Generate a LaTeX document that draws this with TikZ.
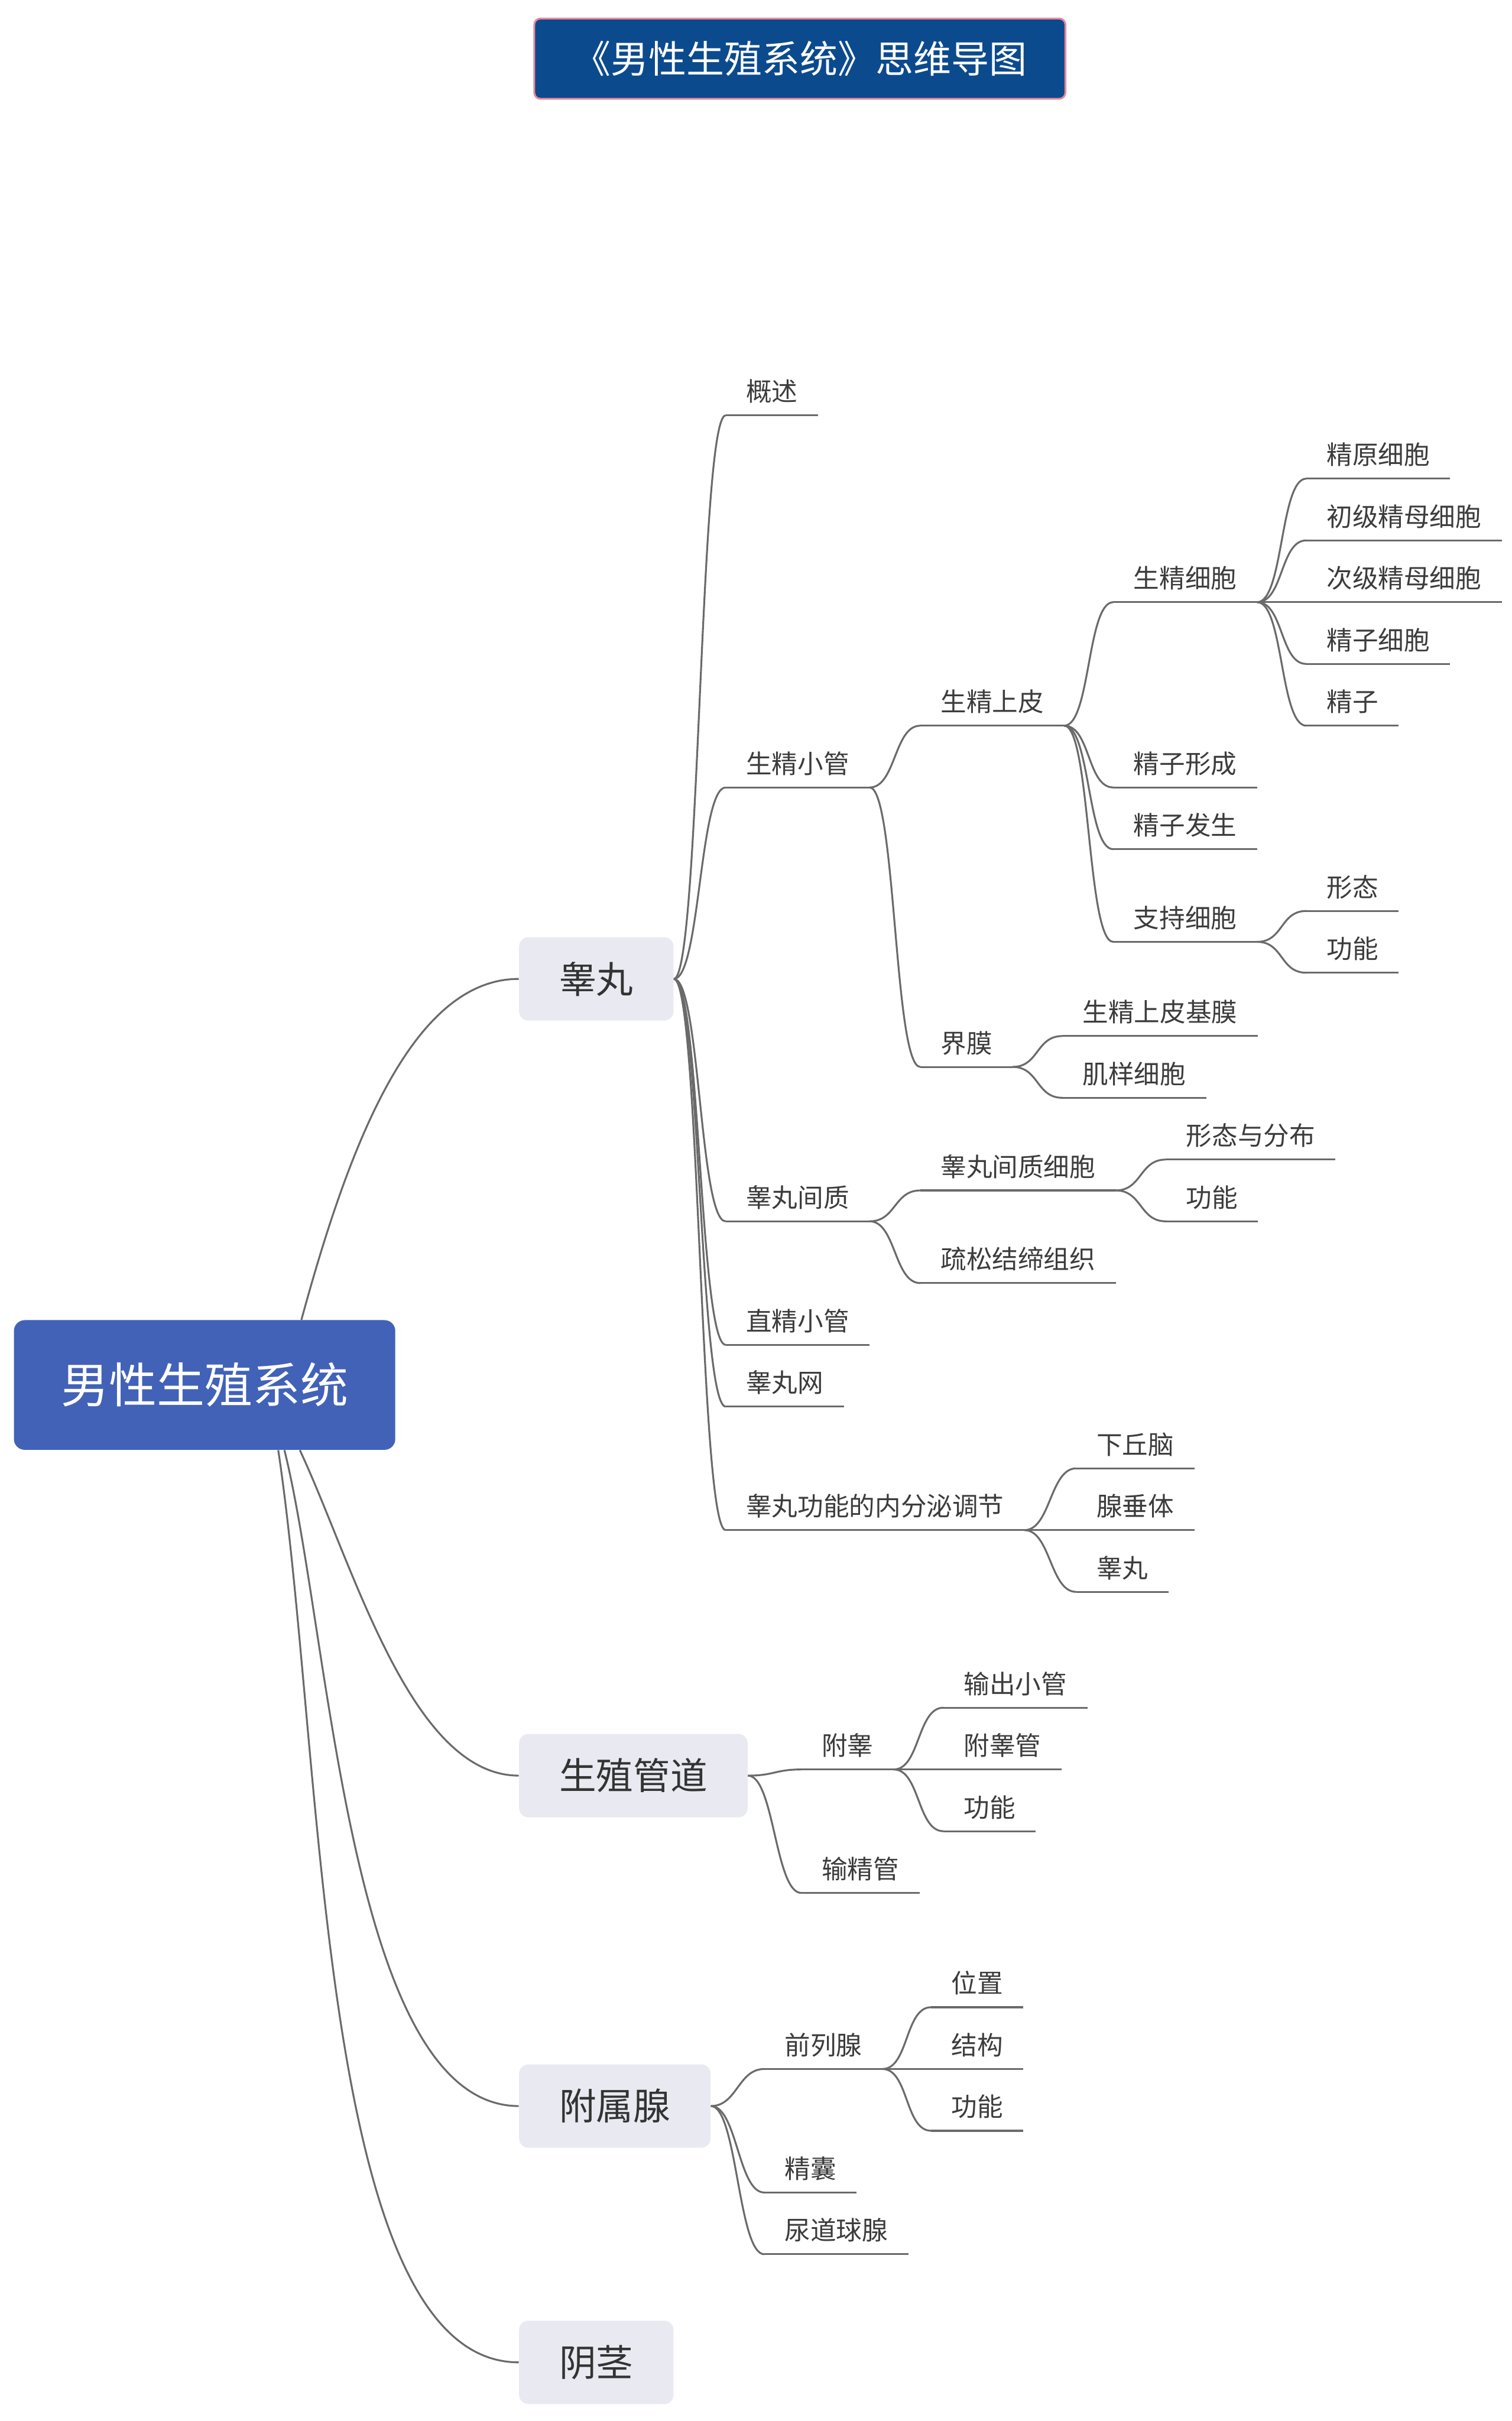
\documentclass[tikz,border=0pt]{standalone}
\usepackage{fontspec}
\setmainfont{Noto Sans CJK SC}

\definecolor{linegray}{HTML}{6A6A6A}
\definecolor{leaftext}{HTML}{3C3C3C}
\definecolor{topicfill}{HTML}{E9EAF1}
\definecolor{rootfill}{HTML}{4262B8}
\definecolor{titlefill}{HTML}{0C4A8E}
\definecolor{titleedge}{HTML}{E8899A}

\begin{document}
\begin{tikzpicture}
[
	x=1pt,y=-1pt,
	conn/.style={draw=linegray,line width=1.2pt},
	curvy/.style={to path={.. controls +(17,0) and +(-17,0) .. (\tikztotarget)}},
	leaf/.style={anchor=south west,inner xsep=13pt,inner ysep=9pt,text depth=0pt,
		text=leaftext,font=\fontsize{16.7}{20}\selectfont,
		append after command={(\tikzlastnode.south west) edge[conn] (\tikzlastnode.south east)}},
	topic/.style={anchor=west,fill=topicfill,rounded corners=6pt,inner xsep=26pt,
		minimum height=54pt,text=black!80,font=\fontsize{24}{28}\selectfont},
	rootbox/.style={fill=rootfill,rounded corners=7pt,minimum width=247pt,
		minimum height=84pt,text=white,font=\fontsize{31}{36}\selectfont},
	titlebox/.style={fill=titlefill,draw=titleedge,line width=1.2pt,rounded corners=4pt,
		minimum width=344pt,minimum height=52pt,text=white,font=\fontsize{24.5}{28}\selectfont}
]

	% page
	\path[fill=white,use as bounding box] (0,0) rectangle (979,1568);

	% title and root
	\node[titlebox] (title) at (518,38) {《男性生殖系统》思维导图};
	\node[rootbox] (root) at (132.5,897) {男性生殖系统};

	% main topics
	\node[topic] (testis) at (336,634) {睾丸};
	\node[topic] (duct) at (336,1150) {生殖管道};
	\node[topic] (gland) at (336,1364) {附属腺};
	\node[topic] (penis) at (336,1530) {阴茎};

	\draw[conn] ([xshift=-61pt]root.north east) .. controls +(30,-110) and +(-70,0) .. (testis.west);
	\draw[conn] ([xshift=-62pt]root.south east) .. controls +(35,75) and +(-70,0) .. (duct.west);
	\draw[conn] ([xshift=-72pt]root.south east) .. controls +(30,120) and +(-110,0) .. (gland.west);
	\draw[conn] ([xshift=-76pt]root.south east) .. controls +(30,200) and +(-130,0) .. (penis.west);

	% testis
	\node[leaf] (overview) at (470,269) {概述};
	\node[leaf] (tubule) at (470,510) {生精小管};
	\node[leaf] (interstitium) at (470,791) {睾丸间质};
	\node[leaf] (rectus) at (470,871) {直精小管};
	\node[leaf] (rete) at (470,911) {睾丸网};
	\node[leaf] (endocrine) at (470,991) {睾丸功能的内分泌调节};

	\draw[conn] (testis.east) to[curvy] (overview.south west);
	\draw[conn] (testis.east) to[curvy] (tubule.south west);
	\draw[conn] (testis.east) to[curvy] (interstitium.south west);
	\draw[conn] (testis.east) to[curvy] (rectus.south west);
	\draw[conn] (testis.east) to[curvy] (rete.south west);
	\draw[conn] (testis.east) to[curvy] (endocrine.south west);

	% seminiferous tubule
	\node[leaf] (epith) at (596,470) {生精上皮};
	\node[leaf] (lamina) at (596,691) {界膜};
	\draw[conn] (tubule.south east) to[curvy] (epith.south west);
	\draw[conn] (tubule.south east) to[curvy] (lamina.south west);

	\node[leaf] (spermcell) at (721,390) {生精细胞};
	\node[leaf] (spermio) at (721,510) {精子形成};
	\node[leaf] (spermato) at (721,550) {精子发生};
	\node[leaf] (sertoli) at (721,610) {支持细胞};
	\draw[conn] (epith.south east) to[curvy] (spermcell.south west);
	\draw[conn] (epith.south east) to[curvy] (spermio.south west);
	\draw[conn] (epith.south east) to[curvy] (spermato.south west);
	\draw[conn] (epith.south east) to[curvy] (sertoli.south west);

	\node[leaf] (gonia) at (846,310) {精原细胞};
	\node[leaf] (primary) at (846,350) {初级精母细胞};
	\node[leaf] (secondary) at (846,390) {次级精母细胞};
	\node[leaf] (spermatid) at (846,430) {精子细胞};
	\node[leaf] (sperm) at (846,470) {精子};
	\draw[conn] (spermcell.south east) to[curvy] (gonia.south west);
	\draw[conn] (spermcell.south east) to[curvy] (primary.south west);
	\draw[conn] (spermcell.south east) to[curvy] (secondary.south west);
	\draw[conn] (spermcell.south east) to[curvy] (spermatid.south west);
	\draw[conn] (spermcell.south east) to[curvy] (sperm.south west);

	\node[leaf] (sertmorph) at (846,590) {形态};
	\node[leaf] (sertfunc) at (846,630) {功能};
	\draw[conn] (sertoli.south east) to[curvy] (sertmorph.south west);
	\draw[conn] (sertoli.south east) to[curvy] (sertfunc.south west);

	\node[leaf] (basement) at (688,671) {生精上皮基膜};
	\node[leaf] (myoid) at (688,711) {肌样细胞};
	\draw[conn] (lamina.south east) to[curvy] (basement.south west);
	\draw[conn] (lamina.south east) to[curvy] (myoid.south west);

	% interstitium
	\node[leaf] (leydig) at (596,771) {睾丸间质细胞};
	\node[leaf] (connective) at (596,831) {疏松结缔组织};
	\draw[conn] (interstitium.south east) to[curvy] (leydig.south west);
	\draw[conn] (interstitium.south east) to[curvy] (connective.south west);

	\node[leaf] (leydigmorph) at (755,751) {形态与分布};
	\node[leaf] (leydigfunc) at (755,791) {功能};
	\draw[conn] (leydig.south east) to[curvy] (leydigmorph.south west);
	\draw[conn] (leydig.south east) to[curvy] (leydigfunc.south west);

	% endocrine regulation
	\node[leaf] (hypothal) at (697,951) {下丘脑};
	\node[leaf] (pituitary) at (697,991) {腺垂体};
	\node[leaf] (testisreg) at (697,1031) {睾丸};
	\draw[conn] (endocrine.south east) to[curvy] (hypothal.south west);
	\draw[conn] (endocrine.south east) to[curvy] (pituitary.south west);
	\draw[conn] (endocrine.south east) to[curvy] (testisreg.south west);

	% genital duct
	\node[leaf] (epididymis) at (519,1146) {附睾};
	\node[leaf] (vasdef) at (519,1226) {输精管};
	\draw[conn] (duct.east) to[curvy] (epididymis.south west);
	\draw[conn] (duct.east) to[curvy] (vasdef.south west);

	\node[leaf] (efferent) at (611,1106) {输出小管};
	\node[leaf] (epiduct) at (611,1146) {附睾管};
	\node[leaf] (epifunc) at (611,1186) {功能};
	\draw[conn] (epididymis.south east) to[curvy] (efferent.south west);
	\draw[conn] (epididymis.south east) to[curvy] (epiduct.south west);
	\draw[conn] (epididymis.south east) to[curvy] (epifunc.south west);

	% accessory glands
	\node[leaf] (prostate) at (495,1340) {前列腺};
	\node[leaf] (vesicle) at (495,1420) {精囊};
	\node[leaf] (bulbo) at (495,1460) {尿道球腺};
	\draw[conn] (gland.east) to[curvy] (prostate.south west);
	\draw[conn] (gland.east) to[curvy] (vesicle.south west);
	\draw[conn] (gland.east) to[curvy] (bulbo.south west);

	\node[leaf] (prospos) at (603,1300) {位置};
	\node[leaf] (prosstruct) at (603,1340) {结构};
	\node[leaf] (prosfunc) at (603,1380) {功能};
	\draw[conn] (prostate.south east) to[curvy] (prospos.south west);
	\draw[conn] (prostate.south east) to[curvy] (prosstruct.south west);
	\draw[conn] (prostate.south east) to[curvy] (prosfunc.south west);

\end{tikzpicture}
\end{document}
